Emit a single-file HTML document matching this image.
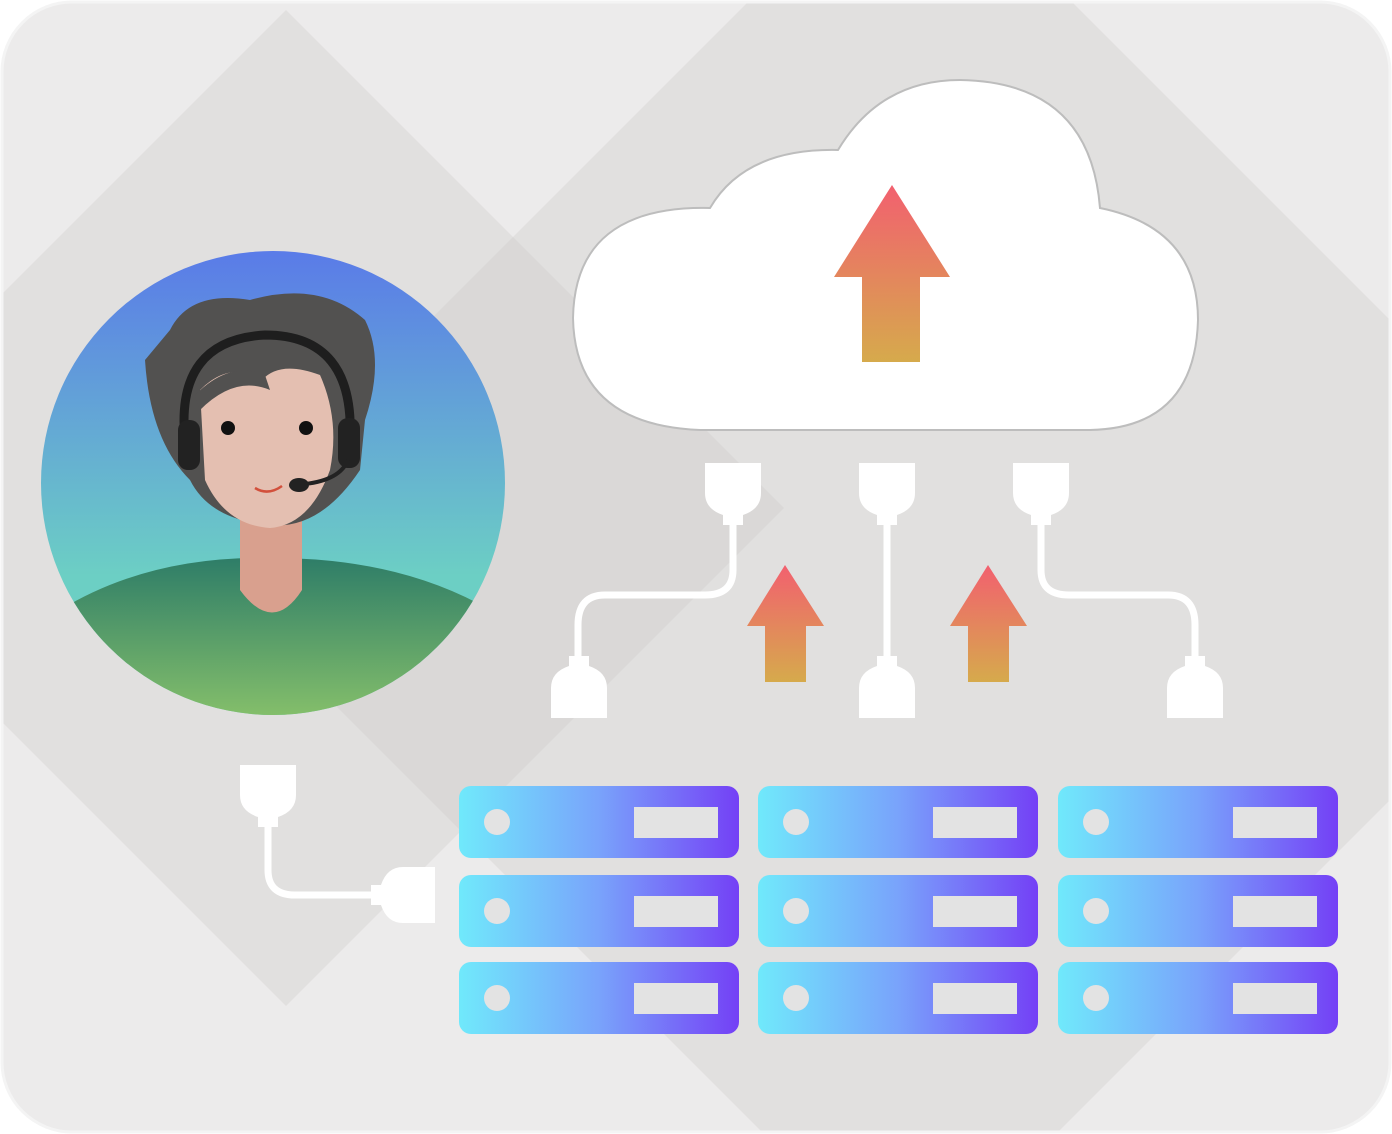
<!DOCTYPE html>
<html><head><meta charset="utf-8"><style>html,body{margin:0;padding:0;background:#fff;overflow:hidden;width:1392px;height:1134px}svg{display:block}</style></head>
<body>
<svg width="1392" height="1134" viewBox="0 0 1392 1134" xmlns="http://www.w3.org/2000/svg">
<defs>
<linearGradient id="arr" x1="0" y1="0" x2="0" y2="1"><stop offset="0" stop-color="#f2606f"/><stop offset="1" stop-color="#d6aa4c"/></linearGradient>
<linearGradient id="sky" x1="0" y1="0" x2="0" y2="1"><stop offset="0" stop-color="#5a7be8"/><stop offset="0.7" stop-color="#6ccfc4"/></linearGradient>
<linearGradient id="shirt" x1="0" y1="0" x2="0" y2="1"><stop offset="0" stop-color="#2e7d68"/><stop offset="1" stop-color="#86c06a"/></linearGradient>
<linearGradient id="srv" x1="0" y1="0" x2="1" y2="0"><stop offset="0" stop-color="#70e9fb"/><stop offset="0.5" stop-color="#79a3fb"/><stop offset="1" stop-color="#7440f6"/></linearGradient>
<clipPath id="circ"><circle cx="273" cy="483" r="232"/></clipPath>
<clipPath id="frame"><rect x="2" y="2" width="1388" height="1130" rx="70"/></clipPath>
<g id="plugD"><path d="M-28 0 h56 v30 q0 16 -18 22 v10 h-20 v-10 q-18 -6 -18 -22 z" fill="#fff"/></g>
<g id="plugU"><path d="M-28 0 h56 v-30 q0 -16 -18 -22 v-10 h-20 v10 q-18 6 -18 22 z" fill="#fff"/></g>
<g id="server"><rect x="0" y="0" width="280" height="72" rx="12" fill="url(#srv)"/><circle cx="38" cy="36" r="13" fill="#e3e3e3"/><rect x="175" y="21" width="84" height="31" fill="#e3e3e3"/></g>
</defs>
<rect width="1392" height="1134" fill="#ffffff"/>
<g clip-path="url(#frame)">
<rect width="1392" height="1134" fill="#ecebeb"/>
<polygon points="910,-160 1630,560 910,1280 190,560" fill="#e1e0df"/>
<polygon points="286,10 784,508 286,1006 -212,508" fill="#e1e0df"/>
<polygon points="513,237 784,508 461,831 190,560" fill="#dad8d7"/>
</g>
<rect x="2" y="2" width="1388" height="1130" rx="70" fill="none" stroke="#f4f4f4" stroke-width="3"/>
<path d="M700,430 Q575,425 573,318 Q575,205 710,208 Q745,148 838,150 Q880,80 960,80 Q1090,82 1100,208 Q1198,228 1198,320 Q1195,428 1090,430 Z" fill="#fff" stroke="#bdbdbd" stroke-width="2"/>
<polygon points="892,185 950,277 920,277 920,362 862,362 862,277 834,277" fill="url(#arr)"/>
<polygon points="785,565 824,626 806,626 806,682 765,682 765,626 747,626" fill="url(#arr)"/>
<polygon points="988,565 1027,626 1009,626 1009,682 968,682 968,626 950,626" fill="url(#arr)"/>
<g fill="none" stroke="#fff" stroke-width="7">
<path d="M733,525 V570 Q733,595 705,595 H605 Q578,595 578,625 V660"/>
<path d="M887,525 V660"/>
<path d="M1041,525 V570 Q1041,595 1069,595 H1168 Q1195,595 1195,625 V660"/>
<path d="M268,825 V870 Q268,895 295,895 H380"/>
</g>
<use href="#plugD" x="733" y="463"/><use href="#plugD" x="887" y="463"/><use href="#plugD" x="1041" y="463"/>
<use href="#plugU" x="579" y="718"/><use href="#plugU" x="887" y="718"/><use href="#plugU" x="1195" y="718"/>
<use href="#plugD" x="268" y="765"/>
<path d="M435,867 v56 h-32 q-16 0 -22 -18 h-10 v-20 h10 q6 -18 22 -18 z" fill="#fff"/>
<circle cx="273" cy="483" r="232" fill="url(#sky)"/>
<g clip-path="url(#circ)">
<path d="M60,610 Q150,555 273,558 Q400,558 490,610 V720 H60 Z" fill="url(#shirt)"/>
<path d="M240,500 V590 Q273,635 302,590 V500 Z" fill="#d9a08e"/>
</g>
<path d="M170,330 Q190,290 250,300 Q320,280 365,320 Q385,360 365,420 L360,470 Q320,530 270,525 Q210,520 190,480 Q150,440 145,360 Z" fill="#525150"/>
<path d="M200,390 Q230,360 262,380 Q280,360 320,375 Q340,420 330,470 Q310,525 270,528 Q225,525 205,480 Z" fill="#e4bfb1"/>
<path d="M195,395 Q230,360 265,375 L270,390 Q235,375 200,410 Z" fill="#525150"/>
<circle cx="228" cy="428" r="7" fill="#111"/><circle cx="306" cy="428" r="7" fill="#111"/>
<path d="M255,488 Q268,496 282,486" stroke="#d2503c" stroke-width="2.5" fill="none"/>
<path d="M185,440 Q175,340 265,335 Q355,335 350,440" stroke="#1e1e1e" stroke-width="9" fill="none"/>
<rect x="178" y="420" width="22" height="50" rx="10" fill="#222"/>
<rect x="338" y="418" width="22" height="50" rx="10" fill="#222"/>
<path d="M348,460 Q340,480 305,484" stroke="#222" stroke-width="4" fill="none"/>
<ellipse cx="299" cy="485" rx="10" ry="7" fill="#222"/>
<use href="#server" x="459" y="786"/><use href="#server" x="758" y="786"/><use href="#server" x="1058" y="786"/>
<use href="#server" x="459" y="875"/><use href="#server" x="758" y="875"/><use href="#server" x="1058" y="875"/>
<use href="#server" x="459" y="962"/><use href="#server" x="758" y="962"/><use href="#server" x="1058" y="962"/>
</svg>
</body></html>
